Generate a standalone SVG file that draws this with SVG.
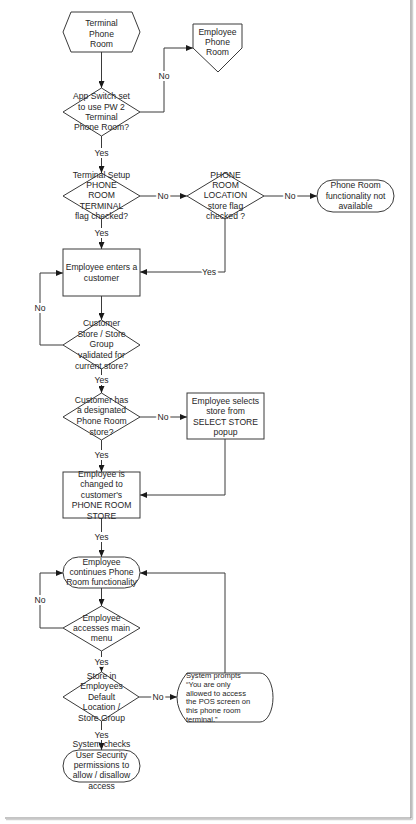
<svg xmlns="http://www.w3.org/2000/svg" width="416" height="824" viewBox="0 0 416 824">
<style>
.s{fill:#fff;stroke:#3a3a3a;stroke-width:1}
.c{fill:none;stroke:#3a3a3a;stroke-width:1}
text{font-family:"Liberation Sans",Arial,sans-serif;font-size:8.6px;fill:#262626;text-anchor:middle}
.l{paint-order:stroke;stroke:#fff;stroke-width:4px}
.p{font-size:7.6px;text-anchor:start}
</style>
<defs>
<marker id="a" markerWidth="7" markerHeight="6" refX="7" refY="3" orient="auto" markerUnits="userSpaceOnUse">
<path d="M0,0 L7,3 L0,6 Z" fill="#1a1a1a"/>
</marker>
</defs>
<rect width="416" height="824" fill="#fff"/>
<g id="frame">
<line x1="411" y1="0" x2="411" y2="818" stroke="#8a8a8a" stroke-width="1.2"/>
<line x1="5" y1="818" x2="411" y2="818" stroke="#8a8a8a" stroke-width="1.2"/>
<line x1="412.5" y1="0" x2="412.5" y2="819.5" stroke="#d0d0d0" stroke-width="1.5"/>
<line x1="6" y1="819.5" x2="412.5" y2="819.5" stroke="#d0d0d0" stroke-width="1.5"/>
</g>
<g id="connectors">
<path class="c" d="M101.5,52 V88" marker-end="url(#a)"/>
<path class="c" d="M140,112 H164 V48 H193" marker-end="url(#a)"/>
<path class="c" d="M101.5,136 V173" marker-end="url(#a)"/>
<path class="c" d="M140,196 H187" marker-end="url(#a)"/>
<path class="c" d="M264,196 H317" marker-end="url(#a)"/>
<path class="c" d="M225,219 V272 H140" marker-end="url(#a)"/>
<path class="c" d="M101.5,219 V249" marker-end="url(#a)"/>
<path class="c" d="M101.5,296 V320" marker-end="url(#a)"/>
<path class="c" d="M63,345 H40 V273 H63" marker-end="url(#a)"/>
<path class="c" d="M101.5,369 V393" marker-end="url(#a)"/>
<path class="c" d="M140,417 H187" marker-end="url(#a)"/>
<path class="c" d="M225,439 V495 H140" marker-end="url(#a)"/>
<path class="c" d="M101.5,440 V472" marker-end="url(#a)"/>
<path class="c" d="M101.5,518 V557" marker-end="url(#a)"/>
<path class="c" d="M101.5,588 V606" marker-end="url(#a)"/>
<path class="c" d="M63,628 H40 V573 H63" marker-end="url(#a)"/>
<path class="c" d="M225,673 V573 H140" marker-end="url(#a)"/>
<path class="c" d="M101.5,651 V672" marker-end="url(#a)"/>
<path class="c" d="M139,697 H177" marker-end="url(#a)"/>
<path class="c" d="M101.5,721 V750" marker-end="url(#a)"/>
<text class="l" x="164" y="79">No</text>
<text class="l" x="101.5" y="156">Yes</text>
<text class="l" x="163" y="199">No</text>
<text class="l" x="290" y="199">No</text>
<text class="l" x="209" y="275">Yes</text>
<text class="l" x="101.5" y="236">Yes</text>
<text class="l" x="40" y="311">No</text>
<text class="l" x="101.5" y="383">Yes</text>
<text class="l" x="163" y="420">No</text>
<text class="l" x="101.5" y="458">Yes</text>
<text class="l" x="101.5" y="540">Yes</text>
<text class="l" x="40" y="603">No</text>
<text class="l" x="101.5" y="665">Yes</text>
<text class="l" x="158" y="700">No</text>
<text class="l" x="101.5" y="738">Yes</text>
</g>
<g id="start">
<polygon class="s" points="71,12 132,12 140,32 132,52 71,52 63,32"/>
<text x="101.5" y="26">Terminal</text>
<text x="101.5" y="37">Phone</text>
<text x="101.5" y="47">Room</text>
</g>
<g id="appSwitch">
<polygon class="s" points="101.5,88 140,112 101.5,136 63,112"/>
<text x="101.5" y="99">App Switch set</text>
<text x="101.5" y="110">to use PW 2</text>
<text x="101.5" y="120">Terminal</text>
<text x="101.5" y="130">Phone Room?</text>
</g>
<g id="employeePhoneRoom">
<polygon class="s" points="193,24 242,24 242,48 218,72 193,48"/>
<text x="217.5" y="35">Employee</text>
<text x="217.5" y="45">Phone</text>
<text x="217.5" y="55">Room</text>
</g>
<g id="terminalSetup">
<polygon class="s" points="101.5,173 140,196 101.5,219 63,196"/>
<text x="101.5" y="178">Terminal Setup</text>
<text x="101.5" y="188">PHONE</text>
<text x="101.5" y="198">ROOM</text>
<text x="101.5" y="209">TERMINAL</text>
<text x="101.5" y="219">flag checked?</text>
</g>
<g id="locationFlag">
<polygon class="s" points="225,173 264,196 225,219 187,196"/>
<text x="225.5" y="178">PHONE</text>
<text x="225.5" y="188">ROOM</text>
<text x="225.5" y="198">LOCATION</text>
<text x="225.5" y="209">store flag</text>
<text x="225.5" y="219">checked ?</text>
</g>
<g id="notAvailable">
<rect class="s" x="317" y="180" width="77" height="32" rx="16"/>
<text x="355.5" y="188">Phone Room</text>
<text x="355.5" y="199">functionality not</text>
<text x="355.5" y="209">available</text>
</g>
<g id="entersCustomer">
<rect class="s" x="63" y="249" width="77" height="47"/>
<text x="101.5" y="270">Employee enters a</text>
<text x="101.5" y="281">customer</text>
</g>
<g id="validated">
<polygon class="s" points="101.5,320 140,345 101.5,369 63,345"/>
<text x="101.5" y="326">Customer</text>
<text x="101.5" y="337">Store / Store</text>
<text x="101.5" y="347">Group</text>
<text x="101.5" y="358">validated for</text>
<text x="101.5" y="369">current store?</text>
</g>
<g id="designated">
<polygon class="s" points="101.5,393 140,417 101.5,440 63,417"/>
<text x="101.5" y="403">Customer has</text>
<text x="101.5" y="413">a designated</text>
<text x="101.5" y="424">Phone Room</text>
<text x="101.5" y="435">store?</text>
</g>
<g id="selectsStore">
<rect class="s" x="187" y="393" width="77" height="46"/>
<text x="225.5" y="404">Employee selects</text>
<text x="225.5" y="414">store from</text>
<text x="225.5" y="425">SELECT STORE</text>
<text x="225.5" y="435">popup</text>
</g>
<g id="changedStore">
<rect class="s" x="63" y="472" width="77" height="46"/>
<text x="101.5" y="477">Employee is</text>
<text x="101.5" y="487">changed to</text>
<text x="101.5" y="498">customer's</text>
<text x="101.5" y="508">PHONE ROOM</text>
<text x="101.5" y="519">STORE</text>
</g>
<g id="continues">
<rect class="s" x="63" y="557" width="77" height="31" rx="15.5"/>
<text x="101.5" y="565">Employee</text>
<text x="101.5" y="575">continues Phone</text>
<text x="101.5" y="585">Room functionality</text>
</g>
<g id="mainMenu">
<polygon class="s" points="101.5,606 140,628 101.5,651 63,628"/>
<text x="101.5" y="621">Employee</text>
<text x="101.5" y="631">accesses main</text>
<text x="101.5" y="641">menu</text>
</g>
<g id="defaultLocation">
<polygon class="s" points="101.5,672 139,697 101.5,721 63,697"/>
<text x="101.5" y="679">Store in</text>
<text x="101.5" y="689">Employees</text>
<text x="101.5" y="700">Default</text>
<text x="101.5" y="710">Location /</text>
<text x="101.5" y="721">Store Group</text>
</g>
<g id="systemPrompts">
<path class="s" d="M187,673 H260 A13,24.5 0 0 1 260,722 H187 Q167,697.5 187,673 Z"/>
<text class="p" x="186" y="678">System prompts</text>
<text class="p" x="186" y="686.8">“You are only</text>
<text class="p" x="186" y="695.6">allowed to access</text>
<text class="p" x="186" y="704.4">the POS screen on</text>
<text class="p" x="186" y="713.2">this phone room</text>
<text class="p" x="186" y="722">terminal.”</text>
</g>
<g id="securityCheck">
<rect class="s" x="63" y="750" width="77" height="32" rx="16"/>
<text x="101.5" y="747">System checks</text>
<text x="101.5" y="758">User Security</text>
<text x="101.5" y="768">permissions to</text>
<text x="101.5" y="778">allow / disallow</text>
<text x="101.5" y="789">access</text>
</g>
</svg>
